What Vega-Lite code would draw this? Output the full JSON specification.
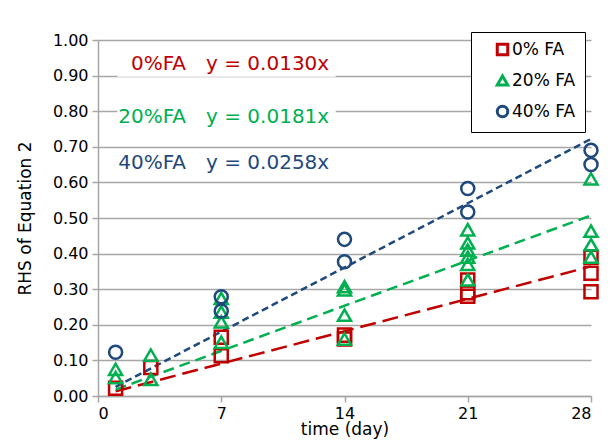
{
  "$schema": "https://vega.github.io/schema/vega-lite/v6.json",
  "autosize": {"type": "none"},
  "width": 493,
  "height": 356,
  "padding": {"left": 98, "top": 40, "right": 25, "bottom": 48},
  "background": "white",
  "config": {
    "font": "DejaVu Sans",
    "view": {"stroke": null},
    "axis": {
      "labelFont": "DejaVu Sans",
      "titleFont": "DejaVu Sans",
      "labelFontSize": 16,
      "labelColor": "#000000",
      "titleFontWeight": "normal",
      "titleColor": "#000000",
      "domainColor": "#A6A6A6",
      "domainWidth": 1.5,
      "tickColor": "#A6A6A6",
      "tickWidth": 1.5,
      "tickSize": 6,
      "gridColor": "#A6A6A6",
      "gridWidth": 1.5
    },
    "legend": {"labelFont": "DejaVu Sans"}
  },
  "datasets": {
    "points": [
      {"day": 1, "value": 0.022, "series": "0% FA"},
      {"day": 3, "value": 0.08, "series": "0% FA"},
      {"day": 7, "value": 0.165, "series": "0% FA"},
      {"day": 7, "value": 0.113, "series": "0% FA"},
      {"day": 14, "value": 0.171, "series": "0% FA"},
      {"day": 14, "value": 0.16, "series": "0% FA"},
      {"day": 21, "value": 0.326, "series": "0% FA"},
      {"day": 21, "value": 0.29, "series": "0% FA"},
      {"day": 21, "value": 0.28, "series": "0% FA"},
      {"day": 28, "value": 0.39, "series": "0% FA"},
      {"day": 28, "value": 0.345, "series": "0% FA"},
      {"day": 28, "value": 0.293, "series": "0% FA"},
      {"day": 1, "value": 0.075, "series": "20% FA"},
      {"day": 1, "value": 0.052, "series": "20% FA"},
      {"day": 3, "value": 0.115, "series": "20% FA"},
      {"day": 3, "value": 0.047, "series": "20% FA"},
      {"day": 7, "value": 0.274, "series": "20% FA"},
      {"day": 7, "value": 0.236, "series": "20% FA"},
      {"day": 7, "value": 0.208, "series": "20% FA"},
      {"day": 7, "value": 0.151, "series": "20% FA"},
      {"day": 14, "value": 0.307, "series": "20% FA"},
      {"day": 14, "value": 0.298, "series": "20% FA"},
      {"day": 14, "value": 0.227, "series": "20% FA"},
      {"day": 14, "value": 0.16, "series": "20% FA"},
      {"day": 21, "value": 0.467, "series": "20% FA"},
      {"day": 21, "value": 0.43, "series": "20% FA"},
      {"day": 21, "value": 0.41, "series": "20% FA"},
      {"day": 21, "value": 0.39, "series": "20% FA"},
      {"day": 21, "value": 0.37, "series": "20% FA"},
      {"day": 21, "value": 0.326, "series": "20% FA"},
      {"day": 28, "value": 0.61, "series": "20% FA"},
      {"day": 28, "value": 0.463, "series": "20% FA"},
      {"day": 28, "value": 0.425, "series": "20% FA"},
      {"day": 28, "value": 0.39, "series": "20% FA"},
      {"day": 1, "value": 0.123, "series": "40% FA"},
      {"day": 7, "value": 0.279, "series": "40% FA"},
      {"day": 7, "value": 0.239, "series": "40% FA"},
      {"day": 14, "value": 0.44, "series": "40% FA"},
      {"day": 14, "value": 0.377, "series": "40% FA"},
      {"day": 21, "value": 0.583, "series": "40% FA"},
      {"day": 21, "value": 0.517, "series": "40% FA"},
      {"day": 28, "value": 0.69, "series": "40% FA"},
      {"day": 28, "value": 0.65, "series": "40% FA"}
    ],
    "trends": [
      {"day": 1, "value": 0.013, "series": "0% FA"},
      {"day": 28, "value": 0.364, "series": "0% FA"},
      {"day": 1, "value": 0.0181, "series": "20% FA"},
      {"day": 28, "value": 0.507, "series": "20% FA"},
      {"day": 1, "value": 0.0258, "series": "40% FA"},
      {"day": 28, "value": 0.722, "series": "40% FA"}
    ],
    "labels": [
      {"day": 5.0, "value": 0.933, "series": "0% FA", "name": "0%FA", "eq": "y = 0.0130x"},
      {"day": 5.0, "value": 0.785, "series": "20% FA", "name": "20%FA", "eq": "y = 0.0181x"},
      {"day": 5.0, "value": 0.655, "series": "40% FA", "name": "40%FA", "eq": "y = 0.0258x"}
    ]
  },
  "encoding": {
    "x": {
      "field": "day", "type": "quantitative",
      "scale": {"domain": [0, 28]},
      "axis": {"values": [0, 7, 14, 21, 28], "grid": false, "title": "time (day)", "labelFontSize": 16, "titleFontSize": 17, "titlePadding": 0, "labelPadding": 3}
    },
    "y": {
      "field": "value", "type": "quantitative",
      "scale": {"domain": [0, 1]},
      "axis": {"values": [0, 0.1, 0.2, 0.3, 0.4, 0.5, 0.6, 0.7, 0.8, 0.9, 1.0], "format": ".2f", "grid": true, "title": "RHS of Equation 2", "labelFontSize": 16, "titleFontSize": 17, "titlePadding": 18, "labelPadding": 4}
    }
  },
  "layer": [
    {
      "data": {"name": "labels"},
      "mark": {"type": "rect", "fill": "white", "yOffset": -13, "y2Offset": 13},
      "encoding": {
        "x": {"datum": 1.1, "type": "quantitative"},
        "x2": {"datum": 13.5},
        "y2": {"field": "value"}
      }
    },
    {
      "data": {"name": "trends"},
      "mark": {"type": "line", "strokeWidth": 2.5},
      "encoding": {
        "detail": {"field": "series", "type": "nominal"},
        "color": {"condition": [{"test": "datum.series === '0% FA'", "value": "#C00000"}, {"test": "datum.series === '20% FA'", "value": "#00B050"}], "value": "#1F497D"},
        "strokeDash": {"condition": [{"test": "datum.series === '0% FA'", "value": [16, 7]}, {"test": "datum.series === '20% FA'", "value": [11, 6]}], "value": [7, 4]}
      }
    },
    {
      "data": {"name": "points"},
      "mark": {"type": "point", "filled": false, "strokeWidth": 2.5, "size": 170, "opacity": 1},
      "encoding": {
        "color": {
          "field": "series", "type": "nominal",
          "scale": {"domain": ["0% FA", "20% FA", "40% FA"], "range": ["#C00000", "#00B050", "#1F497D"]},
          "legend": {"title": null, "orient": "none", "legendX": 373, "legendY": -8, "strokeColor": "#000000", "fillColor": "white", "padding": 9, "symbolOffset": 14, "labelFont": "DejaVu Sans", "labelFontSize": 17, "labelColor": "#000000", "symbolSize": 110, "symbolStrokeWidth": 3, "rowPadding": 8, "labelOffset": 1}
        },
        "shape": {
          "field": "series", "type": "nominal",
          "scale": {"domain": ["0% FA", "20% FA", "40% FA"], "range": ["square", "triangle-up", "circle"]},
          "legend": {"title": null, "orient": "none", "legendX": 373, "legendY": -8, "strokeColor": "#000000", "fillColor": "white", "padding": 9, "symbolOffset": 14, "labelFont": "DejaVu Sans", "labelFontSize": 17, "labelColor": "#000000", "symbolSize": 110, "symbolStrokeWidth": 3, "rowPadding": 8, "labelOffset": 1}
        }
      }
    },
    {
      "data": {"name": "labels"},
      "mark": {"type": "text", "font": "DejaVu Sans", "fontSize": 20, "align": "right", "baseline": "middle"},
      "encoding": {
        "text": {"field": "name"},
        "color": {"condition": [{"test": "datum.series === '0% FA'", "value": "#C00000"}, {"test": "datum.series === '20% FA'", "value": "#00B050"}], "value": "#1F497D"}
      }
    },
    {
      "data": {"name": "labels"},
      "mark": {"type": "text", "font": "DejaVu Sans", "fontSize": 20, "align": "left", "baseline": "middle", "dx": 20},
      "encoding": {
        "text": {"field": "eq"},
        "color": {"condition": [{"test": "datum.series === '0% FA'", "value": "#C00000"}, {"test": "datum.series === '20% FA'", "value": "#00B050"}], "value": "#1F497D"}
      }
    }
  ]
}
